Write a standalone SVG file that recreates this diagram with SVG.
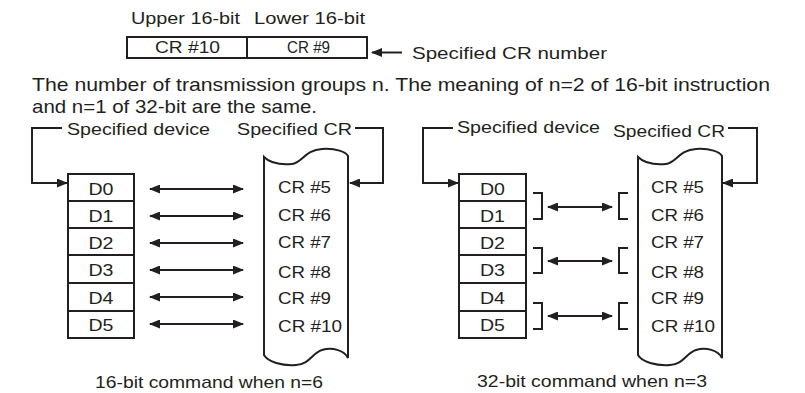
<svg xmlns="http://www.w3.org/2000/svg" width="805" height="393" viewBox="0 0 805 393">
<defs>
<style>
text{font-family:"Liberation Sans",Arial,sans-serif;fill:#231f20;font-size:17px}
.p{font-size:19px}
.c{text-anchor:middle}
.ln{fill:none;stroke:#231f20;stroke-width:2}
.bx{fill:#fff;stroke:#231f20;stroke-width:2}
.ar{fill:none;stroke:#231f20;stroke-width:2;marker-end:url(#ah)}
.da{fill:none;stroke:#231f20;stroke-width:2;marker-end:url(#ah);marker-start:url(#ah)}
</style>
<marker id="ah" markerUnits="userSpaceOnUse" markerWidth="11" markerHeight="9" refX="10" refY="4.5" orient="auto-start-reverse">
<path d="M0,0 L11,4.5 L0,9 Z" fill="#231f20"/>
</marker>
<path id="scroll" d="M264,157 C270,163 280,165 292,164 C302,163 305,150 322,149 C336,148 346,152 348,156 L348,358 C344,350 332,347 322,350 C312,353 310,364 296,365 C282,366 268,362 264,355 Z"/>
</defs>

<g id="top-register">
<text x="131" y="24" textLength="109" lengthAdjust="spacingAndGlyphs">Upper 16-bit</text>
<text x="254" y="24" textLength="111" lengthAdjust="spacingAndGlyphs">Lower 16-bit</text>
<rect class="bx" x="127" y="37" width="240" height="21"/>
<line class="ln" x1="247" y1="37" x2="247" y2="58"/>
<text x="155" y="53" textLength="65" lengthAdjust="spacingAndGlyphs">CR #10</text>
<text x="287" y="53" textLength="43" lengthAdjust="spacingAndGlyphs">CR #9</text>
</g>
<g id="specified-cr-number">
<text x="412" y="59" textLength="195" lengthAdjust="spacingAndGlyphs">Specified CR number</text>
</g>

<g id="paragraph">
<text class="p" x="32" y="91" textLength="738" lengthAdjust="spacingAndGlyphs">The number of transmission groups n. The meaning of n=2 of 16-bit instruction</text>
<text class="p" x="32" y="113" textLength="285" lengthAdjust="spacingAndGlyphs">and n=1 of 32-bit are the same.</text>
</g>

<!-- Left diagram -->
<g id="left-device">
<text x="67" y="135" textLength="143" lengthAdjust="spacingAndGlyphs">Specified device</text>
<rect class="bx" x="68" y="174" width="66" height="27"/>
<rect class="bx" x="68" y="201" width="66" height="27"/>
<rect class="bx" x="68" y="228" width="66" height="27"/>
<rect class="bx" x="68" y="255" width="66" height="28"/>
<rect class="bx" x="68" y="283" width="66" height="28"/>
<rect class="bx" x="68" y="311" width="66" height="27"/>
<text class="c" x="101" y="195" textLength="25" lengthAdjust="spacingAndGlyphs">D0</text>
<text class="c" x="101" y="222" textLength="25" lengthAdjust="spacingAndGlyphs">D1</text>
<text class="c" x="101" y="249" textLength="25" lengthAdjust="spacingAndGlyphs">D2</text>
<text class="c" x="101" y="276" textLength="25" lengthAdjust="spacingAndGlyphs">D3</text>
<text class="c" x="101" y="304" textLength="25" lengthAdjust="spacingAndGlyphs">D4</text>
<text class="c" x="101" y="331" textLength="25" lengthAdjust="spacingAndGlyphs">D5</text>
</g>
<g id="left-cr">
<text x="237" y="135" textLength="115" lengthAdjust="spacingAndGlyphs">Specified CR</text>
<use href="#scroll" class="bx"/>
<text x="278" y="193" textLength="53" lengthAdjust="spacingAndGlyphs">CR #5</text>
<text x="278" y="221" textLength="53" lengthAdjust="spacingAndGlyphs">CR #6</text>
<text x="278" y="248" textLength="53" lengthAdjust="spacingAndGlyphs">CR #7</text>
<text x="278" y="278" textLength="53" lengthAdjust="spacingAndGlyphs">CR #8</text>
<text x="278" y="304" textLength="53" lengthAdjust="spacingAndGlyphs">CR #9</text>
<text x="278" y="332" textLength="64" lengthAdjust="spacingAndGlyphs">CR #10</text>
</g>
<g id="left-caption">
<text x="95" y="388" textLength="228" lengthAdjust="spacingAndGlyphs">16-bit command when n=6</text>
</g>

<!-- Right diagram -->
<g id="right-device">
<text x="457" y="133" textLength="143" lengthAdjust="spacingAndGlyphs">Specified device</text>
<rect class="bx" x="459" y="174" width="67" height="27"/>
<rect class="bx" x="459" y="201" width="67" height="27"/>
<rect class="bx" x="459" y="228" width="67" height="27"/>
<rect class="bx" x="459" y="255" width="67" height="28"/>
<rect class="bx" x="459" y="283" width="67" height="28"/>
<rect class="bx" x="459" y="311" width="67" height="27"/>
<text class="c" x="492.5" y="195" textLength="25" lengthAdjust="spacingAndGlyphs">D0</text>
<text class="c" x="492.5" y="222" textLength="25" lengthAdjust="spacingAndGlyphs">D1</text>
<text class="c" x="492.5" y="249" textLength="25" lengthAdjust="spacingAndGlyphs">D2</text>
<text class="c" x="492.5" y="276" textLength="25" lengthAdjust="spacingAndGlyphs">D3</text>
<text class="c" x="492.5" y="304" textLength="25" lengthAdjust="spacingAndGlyphs">D4</text>
<text class="c" x="492.5" y="331" textLength="25" lengthAdjust="spacingAndGlyphs">D5</text>
</g>
<g id="right-cr">
<text x="613" y="137" textLength="112" lengthAdjust="spacingAndGlyphs">Specified CR</text>
<use href="#scroll" class="bx" transform="translate(374,0)"/>
<text x="651" y="193" textLength="53" lengthAdjust="spacingAndGlyphs">CR #5</text>
<text x="651" y="221" textLength="53" lengthAdjust="spacingAndGlyphs">CR #6</text>
<text x="651" y="248" textLength="53" lengthAdjust="spacingAndGlyphs">CR #7</text>
<text x="651" y="278" textLength="53" lengthAdjust="spacingAndGlyphs">CR #8</text>
<text x="651" y="304" textLength="53" lengthAdjust="spacingAndGlyphs">CR #9</text>
<text x="651" y="332" textLength="64" lengthAdjust="spacingAndGlyphs">CR #10</text>
</g>
<g id="right-caption">
<text x="477" y="387" textLength="230" lengthAdjust="spacingAndGlyphs">32-bit command when n=3</text>
</g>

<g id="connectors">
<path class="ar" d="M402,52.5 H372"/>
<path class="ar" d="M62,128 H32 V183 H67"/>
<path class="ar" d="M355,128 H383 V183 H350"/>
<path class="da" d="M150,189 H243"/>
<path class="da" d="M150,216 H243"/>
<path class="da" d="M150,243 H243"/>
<path class="da" d="M150,270 H243"/>
<path class="da" d="M150,297 H243"/>
<path class="da" d="M150,324 H243"/>
<path class="ar" d="M453,128 H423 V183 H458"/>
<path class="ar" d="M728,128 H757 V183 H723"/>
<path class="ln" d="M533,193 H542 V219 H533"/>
<path class="ln" d="M628,193 H619 V219 H628"/>
<path class="da" d="M548,207 H612"/>
<path class="ln" d="M533,248 H542 V273 H533"/>
<path class="ln" d="M628,248 H619 V273 H628"/>
<path class="da" d="M548,261 H612"/>
<path class="ln" d="M533,303 H542 V329 H533"/>
<path class="ln" d="M628,303 H619 V329 H628"/>
<path class="da" d="M548,316 H612"/>
</g>
</svg>
